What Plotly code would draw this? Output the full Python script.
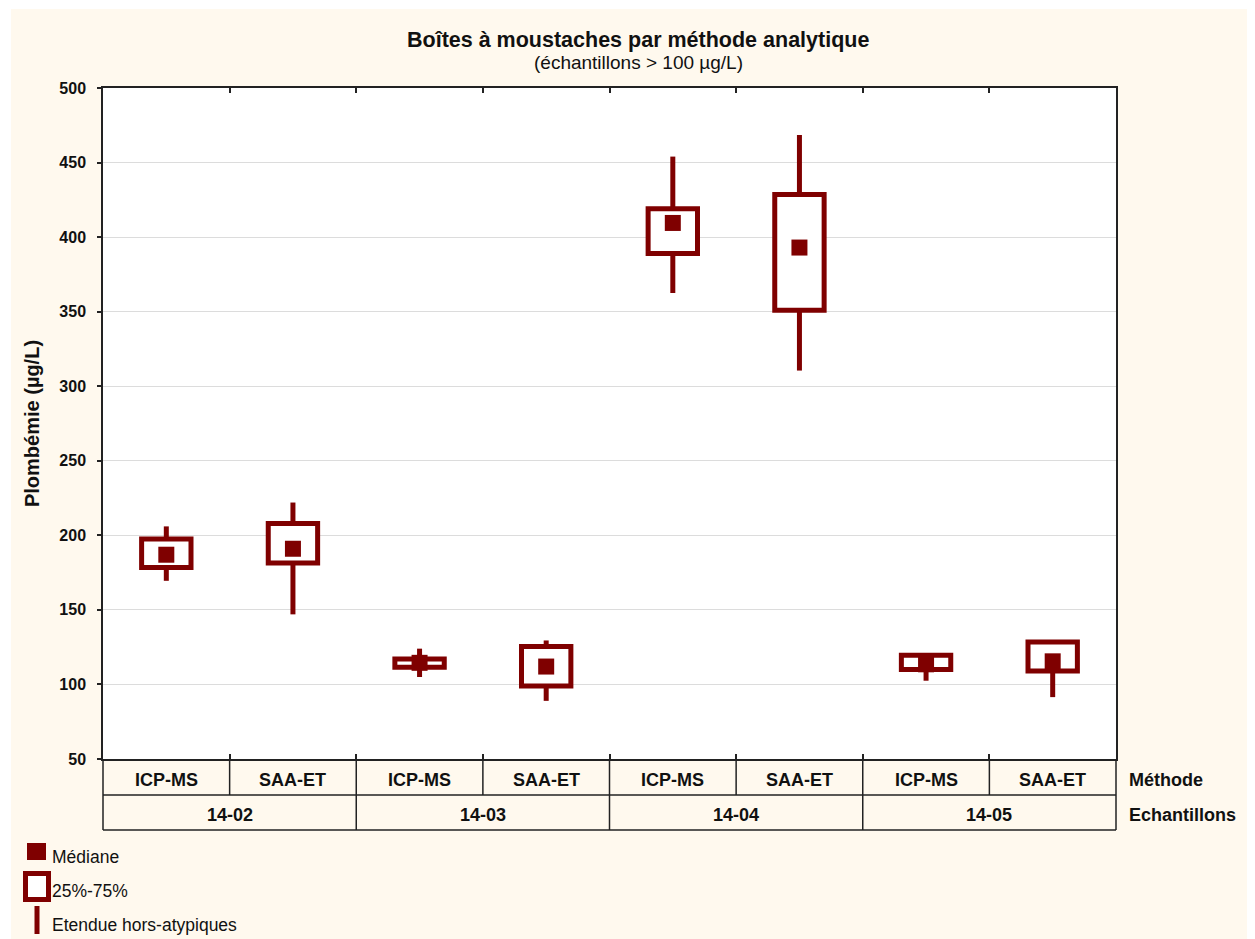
import plotly.graph_objects as go

# ---- data ----
echantillons = ["14-02", "14-03", "14-04", "14-05"]
methodes = ["ICP-MS", "SAA-ET"]
medianes   = [187, 191, 114.5, 112, 409.5, 393, 113.5, 115.5]
q1_vals    = [178.5, 181.5, 111.5, 99, 389, 351, 110, 109]
q3_vals    = [197.5, 208, 117, 125.5, 419, 428.5, 119.5, 128.5]
min_vals   = [169.5, 147, 105, 89, 362.5, 310.5, 102.5, 91.5]
max_vals   = [206, 222, 124, 129.5, 454, 468.5, 119.5, 128.5]
y_ticks = [50, 100, 150, 200, 250, 300, 350, 400, 450, 500]

# ---- layout geometry (reference pixel coords; page body has 8px margin) ----
OFF = 8
W, H = 1255 - OFF, 939 - OFF
L, R, T, B = 103, 1116, 88, 759
RED = "#7f0000"
CREAM = "#fff9ee"
FONT = "Arial, Liberation Sans, sans-serif"
TXT = "#111111"

def px(xp):
    return (xp - L) / (R - L)

def py(yp):
    return (B - yp) / (B - T)

n = len(medianes)
centers = [i + 0.5 for i in range(n)]
hw = 0.195

fig = go.Figure()

# whiskers
wx, wy = [], []
for c, lo, hi, a, b in zip(centers, min_vals, max_vals, q1_vals, q3_vals):
    wx += [c, c, None, c, c, None]
    wy += [b, hi, None, a, lo, None]
fig.add_trace(go.Scatter(x=wx, y=wy, mode="lines",
                         line=dict(color=RED, width=5), hoverinfo="skip", showlegend=False))

# boxes (path wraps past the start corner so every corner gets a join)
for c, a, b in zip(centers, q1_vals, q3_vals):
    fig.add_trace(go.Scatter(x=[c - hw, c + hw, c + hw, c - hw, c - hw, c + hw],
                             y=[a, a, b, b, a, a], mode="lines", fill="toself",
                             fillcolor="white", line=dict(color=RED, width=5),
                             hoverinfo="skip", showlegend=False))

# medians
fig.add_trace(go.Scatter(x=centers, y=medianes, mode="markers",
                         marker=dict(symbol="square", size=16, color=RED, line=dict(width=0)),
                         showlegend=False))

shapes = []
annotations = []

# cream background
shapes.append(dict(type="rect", xref="paper", yref="paper", layer="below",
                   x0=px(11), x1=px(1255 + 20), y0=py(939 + 20), y1=py(9),
                   fillcolor=CREAM, line=dict(width=0)))
# white plot area
shapes.append(dict(type="rect", xref="paper", yref="paper", layer="below",
                   x0=0, x1=1, y0=0, y1=1, fillcolor="white", line=dict(width=0)))

# category table
row1_bot = py(795)
row2_bot = py(830)
line_style = dict(color="#222222", width=1.5)
shapes.append(dict(type="line", xref="paper", yref="paper", x0=0, x1=1, y0=row1_bot, y1=row1_bot, line=line_style))
shapes.append(dict(type="line", xref="paper", yref="paper", x0=0, x1=1, y0=row2_bot, y1=row2_bot, line=line_style))
shapes.append(dict(type="line", xref="paper", yref="paper", x0=0, x1=0, y0=row2_bot, y1=0, line=line_style))
shapes.append(dict(type="line", xref="paper", yref="paper", x0=1, x1=1, y0=row2_bot, y1=0, line=line_style))
for i in range(1, n):
    y0 = row2_bot if i % 2 == 0 else row1_bot
    shapes.append(dict(type="line", xref="x", yref="paper", x0=i, x1=i, y0=y0, y1=0, line=line_style))

TAB_FONT = dict(family=FONT, size=18, color=TXT, weight="bold")
for i, c in enumerate(centers):
    annotations.append(dict(x=c, xref="x", y=py(780), yref="paper", yanchor="middle",
                            text=methodes[i % 2], showarrow=False, font=TAB_FONT))
for j, e in enumerate(echantillons):
    annotations.append(dict(x=2 * j + 1, xref="x", y=py(815), yref="paper", yanchor="middle",
                            text=e, showarrow=False, font=TAB_FONT))
annotations.append(dict(x=px(1127), xref="paper", y=py(780), yref="paper", yanchor="middle",
                        xanchor="left", text="Méthode", showarrow=False, font=TAB_FONT))
annotations.append(dict(x=px(1127), xref="paper", y=py(815), yref="paper", yanchor="middle",
                        xanchor="left", text="Echantillons", showarrow=False, font=TAB_FONT))

# titles
annotations.append(dict(x=px(638), xref="paper", y=py(40), yref="paper", yanchor="middle",
                        text="Boîtes à moustaches par méthode analytique", showarrow=False,
                        font=dict(family=FONT, size=21.5, color=TXT, weight="bold")))
annotations.append(dict(x=px(638), xref="paper", y=py(62), yref="paper", yanchor="middle",
                        text="(échantillons > 100 µg/L)", showarrow=False,
                        font=dict(family=FONT, size=19, color=TXT)))

# legend (custom)
shapes.append(dict(type="rect", xref="paper", yref="paper",
                   x0=px(27), x1=px(46), y0=py(860), y1=py(843),
                   fillcolor=RED, line=dict(width=0)))
shapes.append(dict(type="rect", xref="paper", yref="paper",
                   x0=px(25.5), x1=px(48.5), y0=py(899.5), y1=py(873.5),
                   fillcolor="white", line=dict(color=RED, width=5)))
shapes.append(dict(type="line", xref="paper", yref="paper",
                   x0=px(37), x1=px(37), y0=py(934), y1=py(906),
                   line=dict(color=RED, width=5)))
for ytxt, t in [(857, "Médiane"), (891, "25%-75%"), (925, "Etendue hors-atypiques")]:
    annotations.append(dict(x=px(50), xref="paper", y=py(ytxt), yref="paper", xanchor="left",
                            yanchor="middle", text=t, showarrow=False,
                            font=dict(family=FONT, size=17.5, color=TXT)))

fig.update_layout(
    width=W, height=H,
    margin=dict(l=L - OFF, r=W - (R - OFF), t=T - OFF, b=H - (B - OFF), pad=0),
    paper_bgcolor="white",
    plot_bgcolor="rgba(0,0,0,0)",
    showlegend=False,
    shapes=shapes,
    annotations=annotations,
    font=dict(family=FONT, color=TXT),
)
fig.update_xaxes(range=[0, n], tickvals=list(range(1, n)), ticktext=[""] * (n - 1),
                 ticks="inside", ticklen=5, tickcolor="#222222", tickwidth=1.5,
                 showgrid=False, zeroline=False, showline=True, linecolor="#222222",
                 linewidth=1.5, mirror="ticks", fixedrange=True)
fig.update_yaxes(range=[50, 500], tickvals=y_ticks, ticks="outside", ticklen=4,
                 tickcolor="#222222", tickwidth=1.5, showgrid=True, gridcolor="#dcdcdc",
                 gridwidth=1.2, zeroline=False, showline=True, linecolor="#222222",
                 linewidth=1.5, mirror=True, ticklabelstandoff=8,
                 tickfont=dict(family=FONT, size=16, color=TXT, weight="bold"),
                 title=dict(text="Plombémie (µg/L)", standoff=14,
                            font=dict(family=FONT, size=20, color=TXT, weight="bold")),
                 fixedrange=True)

fig.write_html("out.html")
